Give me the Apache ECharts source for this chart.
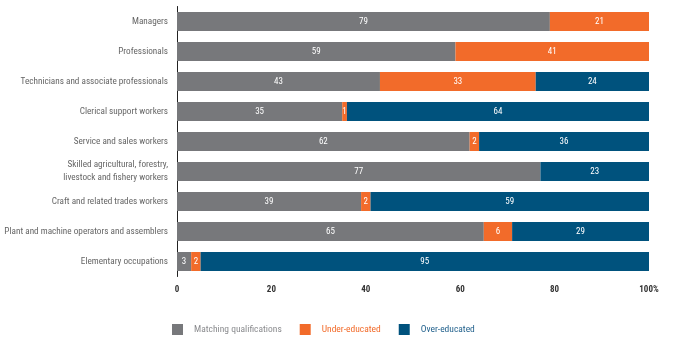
<!DOCTYPE html>
<html><head><meta charset="utf-8">
<script src="https://cdn.jsdelivr.net/npm/echarts@6/dist/echarts.min.js"></script>
<style>html,body{margin:0;padding:0;background:#fff}#c{width:680px;height:339px}</style>
</head><body><div id="c"></div>
<script>
var categories = ["Managers","Professionals","Technicians and associate professionals","Clerical support workers","Service and sales workers","Skilled agricultural, forestry,\nlivestock and fishery workers","Craft and related trades workers","Plant and machine operators and assemblers","Elementary occupations"];
var matching = [79,59,43,35,62,77,39,65,3];
var under = [21,41,33,1,2,0,2,6,2];
var over = [0,0,24,64,36,23,59,29,95];
var xTicks = [0,20,40,60,80,100];
var seriesNames = ["Matching qualifications","Under-educated","Over-educated"];
var colors = ["#77787b","#f26b2a","#00527d"];
var textColors = ["#8a8b8e","#f26b2a","#1f5f8b"];
var legendTextWidths = [88,77,70];

var chart = echarts.init(document.getElementById('c'));
var font = '"Liberation Sans Narrow","Roboto Condensed","Liberation Sans",sans-serif';
function mk(name, data, i){
  return {name:name,type:'bar',stack:'t',data:data,barWidth:19,
    itemStyle:{color:colors[i]},
    label:{show:true,position:'inside',color:'#fff',fontSize:9,fontFamily:font,
      formatter:function(p){return p.value?String(p.value):'';}}};
}
chart.setOption({
  animation:false,
  grid:{left:177,right:31,top:6.5,bottom:62.5,containLabel:false,outerBoundsMode:'none'},
  legend:{left:167,top:319,itemWidth:11,itemHeight:11,itemGap:18,icon:'rect',
    textStyle:{fontSize:9.5,fontFamily:font,padding:[0,0,0,6]},
    data:seriesNames.map(function(n,i){return {name:n,textStyle:{color:textColors[i],width:legendTextWidths[i]}};})},
  xAxis:{type:'value',min:0,max:100,interval:20,
    axisLine:{show:false},axisTick:{show:false},splitLine:{show:false},
    axisLabel:{color:'#333',fontSize:9,fontFamily:font,fontWeight:'bold',margin:9,
      formatter:function(v){return xTicks.indexOf(v)<0?'':(v===100?'100%':String(v));}}},
  yAxis:{type:'category',inverse:true,data:categories,
    axisLine:{show:true,lineStyle:{color:'#222',width:1}},axisTick:{show:false},
    axisLabel:{color:'#666',fontSize:9.2,fontFamily:font,margin:9,lineHeight:13}},
  series:[mk(seriesNames[0],matching,0),mk(seriesNames[1],under,1),mk(seriesNames[2],over,2)]
});
</script></body></html>
